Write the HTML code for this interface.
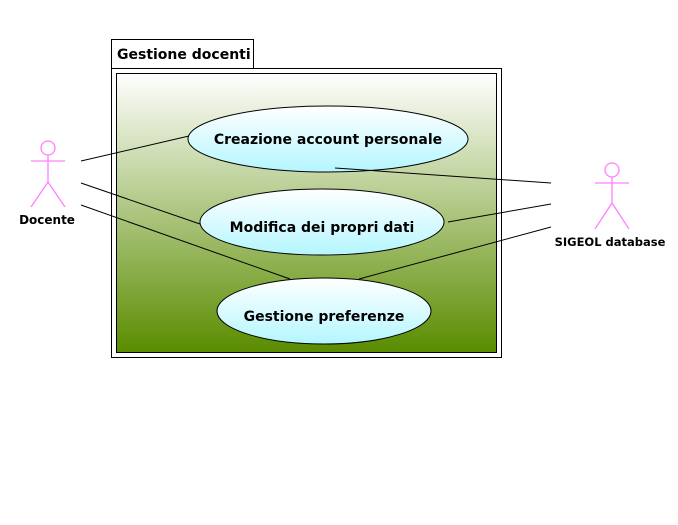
<!DOCTYPE html>
<html><head><style>body{margin:0;background:#fff}svg{display:block}</style></head><body>
<svg width="678" height="525" xmlns="http://www.w3.org/2000/svg" font-family="'DejaVu Sans', 'Liberation Sans', sans-serif" font-weight="bold">
<defs>
<linearGradient id="g" x1="0" y1="0" x2="0" y2="1"><stop offset="0" stop-color="#ffffff"/><stop offset="1" stop-color="#5a8c00"/></linearGradient>
<linearGradient id="e" x1="0" y1="0" x2="0" y2="1"><stop offset="0" stop-color="#ffffff"/><stop offset="1" stop-color="#b4f6ff"/></linearGradient>
</defs>
<rect x="111.5" y="39.5" width="142" height="29" fill="#fff" stroke="#000"/>
<text x="117" y="59" font-size="14" font-weight="bold" fill="#000">Gestione docenti</text>
<rect x="111.5" y="68.5" width="390" height="289" fill="#fff" stroke="#000"/>
<rect x="116.5" y="73.5" width="380" height="279" fill="url(#g)" stroke="#000"/>
<g stroke="#000" stroke-width="1" fill="none">
<line x1="81" y1="161" x2="189" y2="136"/>
<line x1="81" y1="183" x2="200" y2="224"/>
<line x1="81" y1="205" x2="290" y2="279"/>
<line x1="335" y1="168" x2="551" y2="183"/>
<line x1="448" y1="222" x2="551" y2="204"/>
<line x1="359" y1="279" x2="551" y2="227"/>
</g>
<g stroke="#000" fill="url(#e)">
<ellipse cx="328" cy="139" rx="140" ry="33"/>
<ellipse cx="322" cy="222" rx="122" ry="33"/>
<ellipse cx="324" cy="311" rx="107" ry="33"/>
</g>
<line x1="335" y1="168" x2="372" y2="170.5" stroke="#000"/>
<g font-size="14" text-anchor="middle" fill="#000">
<text x="328" y="144">Creazione account personale</text>
<text x="322" y="232">Modifica dei propri dati</text>
<text x="324" y="321">Gestione preferenze</text>
</g>
<g stroke="#ff80ff" fill="none" stroke-width="1.3">
<circle cx="48" cy="148" r="7"/>
<line x1="31" y1="161" x2="65" y2="161"/><line x1="48" y1="155" x2="48" y2="182"/>
<line x1="48" y1="182" x2="31" y2="207"/><line x1="48" y1="182" x2="65" y2="207"/>
<circle cx="612" cy="170" r="7"/>
<line x1="595" y1="183" x2="629" y2="183"/><line x1="612" y1="177" x2="612" y2="203"/>
<line x1="612" y1="203" x2="595" y2="229"/><line x1="612" y1="203" x2="629" y2="229"/>
</g>
<g font-size="12" text-anchor="middle" fill="#000">
<text x="47" y="224">Docente</text>
<text x="610" y="246" font-size="11.5">SIGEOL database</text>
</g>
</svg>
</body></html>
